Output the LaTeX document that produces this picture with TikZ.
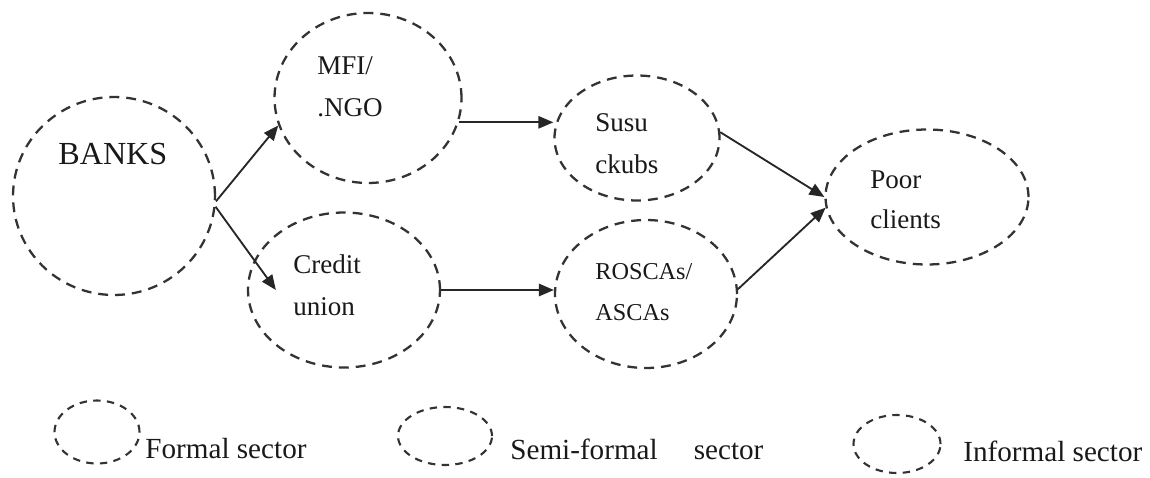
\documentclass[tikz,border=0pt]{standalone}
\usepackage{fontspec}
\setmainfont{Liberation Serif}
\usetikzlibrary{arrows.meta, shapes, positioning}

\begin{document}
\begin{tikzpicture}[x=0.02cm, y=-0.02cm,
    circ/.style={ellipse, draw=black!80, line width=1.3pt, dash pattern=on 5.6pt off 4pt, inner sep=0pt},
    legcirc/.style={circ, line width=1.2pt, dash pattern=on 4.2pt off 3.6pt},
    txt/.style={anchor=west, align=left, inner sep=0pt, text=black!90, font=\fontsize{15.4}{23.8}\selectfont},
    legtxt/.style={txt, font=\fontsize{16.6}{20}\selectfont},
    flow/.style={-{Triangle[length=8.5pt,width=7pt]}, line width=1.05pt, draw=black!85}]
  \useasboundingbox (0,0) rectangle (1150,477);

  % sectors
  \node[circ, minimum width=4.04cm, minimum height=3.96cm] (banks)  at (114,196) {};
  \node[circ, minimum width=3.74cm, minimum height=3.40cm] (mfi)    at (368,98)  {};
  \node[circ, minimum width=3.84cm, minimum height=3.10cm] (credit) at (344,290) {};
  \node[circ, minimum width=3.30cm, minimum height=2.50cm] (susu)   at (637,138) {};
  \node[circ, minimum width=3.64cm, minimum height=2.96cm] (roscas) at (646,294) {};
  \node[circ, minimum width=4.06cm, minimum height=2.70cm] (poor)   at (927,197) {};

  % labels
  \node[txt, font=\fontsize{18.3}{22}\selectfont] (banks-t) at (58,154) {BANKS};
  \node[txt] (mfi-t)    at (317,87)  {MFI/\\.NGO};
  \node[txt] (credit-t) at (293,285) {Credit\\union};
  \node[txt] (susu-t)   at (595,144) {Susu\\ckubs};
  \node[txt, font=\fontsize{13.8}{23.8}\selectfont] (roscas-t) at (595,292) {ROSCAs/\\ASCAs};
  \node[txt, font=\fontsize{15.4}{22.7}\selectfont] (poor-t) at (870,200) {Poor\\clients};

  % flows
  \draw[flow] (banks.-3) -- (mfi.197);
  \draw[flow] (banks.-6) -- ([xshift=0.58cm]credit.west);
  \draw[flow] (mfi.-15) -- (mfi.-15 -| susu.west);
  \draw[flow] (credit.east) -- (credit.east -| roscas.west);
  \draw[flow] (susu.4) -- (poor.west);
  \draw[flow] (roscas.3) -- (poor.186);

  % legend
  \node[legcirc, minimum width=1.70cm, minimum height=1.26cm] (formal)   at (97,432)  {};
  \node[legcirc, minimum width=1.88cm, minimum height=1.16cm] (semi)     at (445,436) {};
  \node[legcirc, minimum width=1.74cm, minimum height=1.16cm] (informal) at (897,444) {};
  \node[legtxt] (formal-t)   at (145,449) {Formal sector};
  \node[legtxt] (semi-t)     at (510,449) {Semi-formal\hspace{0.72cm}sector};
  \node[legtxt] (informal-t) at (963,451) {Informal sector};
\end{tikzpicture}
\end{document}
